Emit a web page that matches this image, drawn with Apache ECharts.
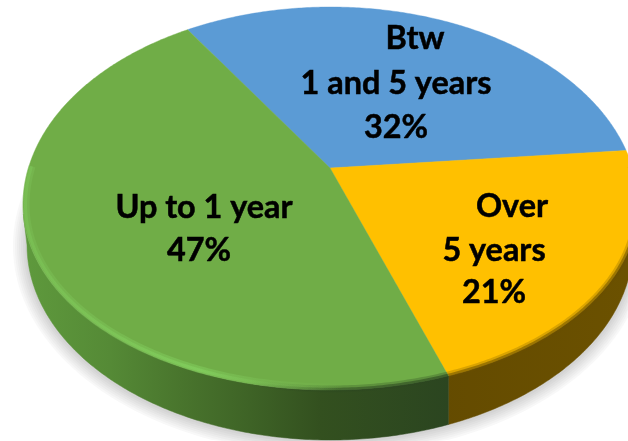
<!DOCTYPE html>
<html>
<head>
<meta charset="utf-8">
<style>html,body{margin:0;padding:0;background:#fff}#c{width:628px;height:441px}</style>
<script src="https://cdn.jsdelivr.net/npm/echarts@6/dist/echarts.min.js"></script>
</head>
<body>
<div id="c"></div>
<script>
const categories = ['Btw\n1 and 5 years', 'Over\n5 years', 'Up to 1 year'];
const values = [32, 21, 47];
const faceColors = ['#5B9BD5', '#FFC000', '#70AD47'];

/* layout of the tilted disc */
const startDeg = 333.4;
const apex = [330, 168], persp = {r: 1.96, shear: -0.047};
const top_ = {cx: 330.5, cy: 205, rx: 307.5, ryUp: 198, ryDown: 185};
const bot = {cx: 330, cy: 245, rx: 303, ry: 195};
const labelAnchors = [
  [[415, 39], [396, 84], [396, 128]],
  [[512, 207], [494, 251], [494, 293]],
  [[204, 208], [199, 251]]
];
const total = values.reduce((a, b) => a + b, 0);

function outlinePoint(deg) {
  const t = deg * Math.PI / 180, u = Math.sin(t), v = -Math.cos(t);
  const dx = persp.r * u, dy = v + persp.shear * dx;
  let lo = 0, hi = 500;
  for (let i = 0; i < 30; i++) {
    const m = (lo + hi) / 2, x = apex[0] + dx * m, y = apex[1] + dy * m;
    const ry = y < top_.cy ? top_.ryUp : top_.ryDown;
    const f = ((x - top_.cx) / top_.rx) ** 2 + ((y - top_.cy) / ry) ** 2;
    if (f < 1) lo = m; else hi = m;
  }
  return [apex[0] + dx * lo, apex[1] + dy * lo];
}
function arcPoints(a0, a1) {
  const n = Math.max(2, Math.ceil((a1 - a0) * 2)), out = [];
  for (let i = 0; i <= n; i++) out.push(outlinePoint(a0 + (a1 - a0) * i / n));
  return out;
}
function botY(x) {
  const d = Math.min(1, Math.abs(x - bot.cx) / bot.rx);
  return bot.cy + bot.ry * Math.sqrt(1 - d * d);
}
function inset(p, d) {
  const vx = top_.cx - p[0], vy = top_.cy - p[1], l = Math.hypot(vx, vy) || 1;
  return [p[0] + vx / l * d, p[1] + vy / l * d];
}
const xGrad = stops => ({type: 'linear', x: 0, y: 0, x2: 628, y2: 0, global: true,
  colorStops: stops.map(s => ({offset: s[0] / 628, color: s[1]}))});

const wallFill = [
  null,
  xGrad([[440, '#644b00'], [628, '#6b5100']]),
  xGrad([[20, '#5f9a3d'], [110, '#558a36'], [180, '#49752d'], [250, '#3e6326'], [320, '#33501f'], [449, '#2b4520']])
];
const softEdges = [
  [],
  [{d: 1, w: 7, c: 'rgba(107,80,0,0.25)'}, {d: 0.5, w: 3.5, c: 'rgba(107,80,0,0.55)'}],
  [{d: 1, w: 7, c: xGrad([[250, 'rgba(43,69,32,0)'], [340, 'rgba(43,69,32,0.25)'], [449, 'rgba(43,69,32,0.3)']])},
   {d: 0.5, w: 3.5, c: xGrad([[250, 'rgba(43,69,32,0)'], [340, 'rgba(43,69,32,0.5)'], [449, 'rgba(43,69,32,0.6)']])},
   {d: 3, w: 7, c: xGrad([[20, 'rgba(128,198,92,0.3)'], [200, 'rgba(128,205,92,0.55)'], [280, 'rgba(128,198,92,0.25)'], [340, 'rgba(128,198,92,0)']])},
   {d: 2.5, w: 3, c: xGrad([[20, 'rgba(128,205,92,0.35)'], [200, 'rgba(135,215,100,0.5)'], [280, 'rgba(128,198,92,0.15)'], [340, 'rgba(128,198,92,0)']])}]
];
const shadowRamp = [[14, '#f8f8f8'], [12, '#f2f2f2'], [10, '#ececec'], [8, '#e6e6e6'], [6, '#e0e0e0'], [4, '#dadada'], [2, '#d4d4d4']];

function shadowLayers() {
  return shadowRamp.map(([d, color]) => {
    const pts = [];
    for (let a = 0; a < 360; a += 2) {
      const t = a * Math.PI / 180;
      pts.push([
        Math.max(0, Math.min(628, bot.cx + (bot.rx + d) * Math.cos(t))),
        Math.max(0, Math.min(441, bot.cy + 1 + (bot.ry + d) * Math.sin(t)))
      ]);
    }
    return {type: 'polygon', shape: {points: pts}, style: {fill: color}};
  });
}

function renderSlice(params, api) {
  const i = params.dataIndex;
  let before = 0;
  for (let j = 0; j < i; j++) before += values[j];
  const a0 = startDeg + before / total * 360;
  const a1 = a0 + api.value(0) / total * 360;
  const arc = arcPoints(a0, a1);
  const children = i === 0 ? shadowLayers() : [];
  const lower = arc.filter(p => p[1] >= top_.cy + 8);
  const edge = arc.filter(p => p[1] >= top_.cy - 40);
  if (lower.length > 1) {
    const lowerBot = lower.map(p => {
      const x = Math.max(bot.cx - bot.rx, Math.min(bot.cx + bot.rx, p[0]));
      return [x, botY(x)];
    }).reverse();
    children.push({type: 'polygon', shape: {points: lower.concat(lowerBot)},
      style: {fill: wallFill[i], stroke: wallFill[i], lineWidth: 0.5}});
  }
  children.push({type: 'polygon', shape: {points: [apex].concat(arc)},
    style: {fill: faceColors[i], stroke: faceColors[i], lineWidth: 0.4}});
  if (lower.length > 1) {
    softEdges[i].forEach(e => children.push({type: 'polyline',
      shape: {points: edge.map(p => inset(p, e.d))},
      style: {fill: null, stroke: e.c, lineWidth: e.w}}));
  }
  const lines = categories[i].split('\n').concat(api.value(0) + '%');
  lines.forEach((t, k) => children.push({type: 'text', z2: 100, style: {
    text: t, x: labelAnchors[i][k][0], y: labelAnchors[i][k][1], align: 'center', verticalAlign: 'middle',
    font: 'bold 32.4px Lato, "Open Sans", sans-serif', fill: '#000', stroke: '#000', lineWidth: 0.5}}));
  return {type: 'group', children};
}

const chart = echarts.init(document.getElementById('c'), null, {renderer: 'canvas', width: 628, height: 441});
chart.setOption({
  animation: false,
  backgroundColor: '#fff',
  series: [
    {type: 'custom', coordinateSystem: 'none', silent: true, clip: false, renderItem: renderSlice,
     data: values.map((v, i) => ({name: categories[i], value: [v]}))}
  ]
});
</script>
</body>
</html>
